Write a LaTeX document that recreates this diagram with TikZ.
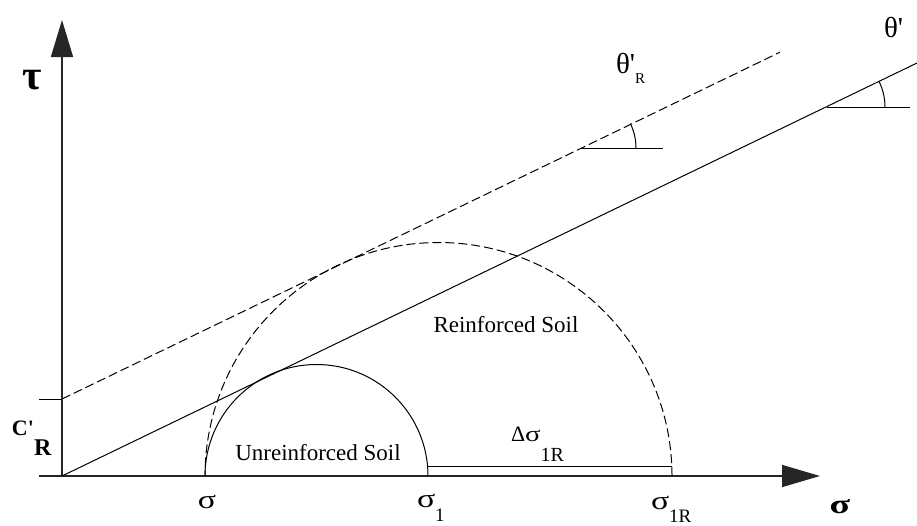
\documentclass[tikz,border=0pt]{standalone}
\usepackage{fontspec}
\setmainfont{Liberation Serif}
\usetikzlibrary{arrows.meta}
\newcommand{\fs}[1]{\fontsize{#1}{#1}\selectfont}
\newcommand{\wsig}{\scalebox{1.3}[1]{σ}}
\begin{document}
\begin{tikzpicture}[x=1pt,y=-1pt,
  axis/.style={line width=1.6pt, draw=black!85},
  thin/.style={line width=1pt, draw=black},
  dline/.style={line width=1pt, draw=black, dash pattern=on 9pt off 4pt},
  lab/.style={inner sep=0pt, outer sep=0pt}]
\useasboundingbox (0,0) rectangle (917,525);
% coordinates
\coordinate (O) at (62,476);
\coordinate (Ytip) at (62,20);
\coordinate (Xleft) at (39,476);
\coordinate (Xtip) at (820,476);
\coordinate (CR) at (62,399);
\coordinate (CRtick) at (39,399);
\coordinate (Dend) at (780,52.2);
\coordinate (Send) at (917,63);
\coordinate (S3) at (205,476);
\coordinate (S1) at (428,476);
\coordinate (S1R) at (672,476);
\coordinate (D1) at (428,466);
\coordinate (D2) at (672,466);
% axes
\draw[axis,-{Triangle[length=37pt,width=22pt]}] (O) -- (Ytip);
\draw[axis,-{Triangle[length=38pt,width=22pt]}] (Xleft) -- (Xtip);
% cohesion tick
\draw[thin] (CRtick) -- (CR);
% failure envelopes
\draw[dline] (CR) -- (Dend);
\draw[thin] (O) -- (Send);
% Mohr circles
\draw[thin] (S1) arc[start angle=0,end angle=-180,radius=111.5];
\draw[dline] (S1R) arc[start angle=0,end angle=-180,radius=233.5];
% delta sigma line
\draw[thin] (D1) -- (D2);
% angle markers
\coordinate (A1) at (580,148);
\coordinate (A1e) at (663,148);
\draw[thin] (A1) -- (A1e);
\draw[thin] (630.4,123.6) arc[start angle=-25.8,end angle=0,radius=56];
\coordinate (A2) at (827,107);
\coordinate (A2e) at (910,107);
\draw[thin] (A2) -- (A2e);
\draw[thin] (879.2,81.8) arc[start angle=-25.8,end angle=0,radius=58];
% labels
\node[lab] (tau) at (32,80) {\fs{42}\bfseries τ};
\node[lab,anchor=base west] (cr) at (12,435) {\fs{22}\bfseries C\textquotesingle\raisebox{-20pt}{\fs{24}R}};
\node[lab,anchor=base west] (thr) at (616,73) {\fs{29}θ\textquotesingle\raisebox{-10pt}{\fs{15}R}};
\node[lab,anchor=base west] (th) at (884,37) {\fs{29}θ\textquotesingle};
\node[lab,anchor=base] (unr) at (318,460) {\fs{23}Unreinforced Soil};
\node[lab,anchor=base] (rei) at (506,332) {\fs{23}Reinforced Soil};
\node[lab,anchor=base] (s3) at (207,508) {\fs{26}\wsig};
\node[lab,anchor=base west] (s1) at (417,507) {\fs{26}\wsig\raisebox{-14pt}{\fs{19}1}};
\node[lab,anchor=base west] (s1r) at (651,509) {\fs{26}\wsig\raisebox{-13pt}{\fs{19}1R}};
\node[lab,anchor=base] (sx) at (840,513) {\fs{27}\bfseries\scalebox{1.4}[1]{σ}};
\node[lab,anchor=base west] (ds) at (511,441) {\fs{22}Δ\wsig\raisebox{-20pt}{\fs{20}1R}};
\end{tikzpicture}
\end{document}
